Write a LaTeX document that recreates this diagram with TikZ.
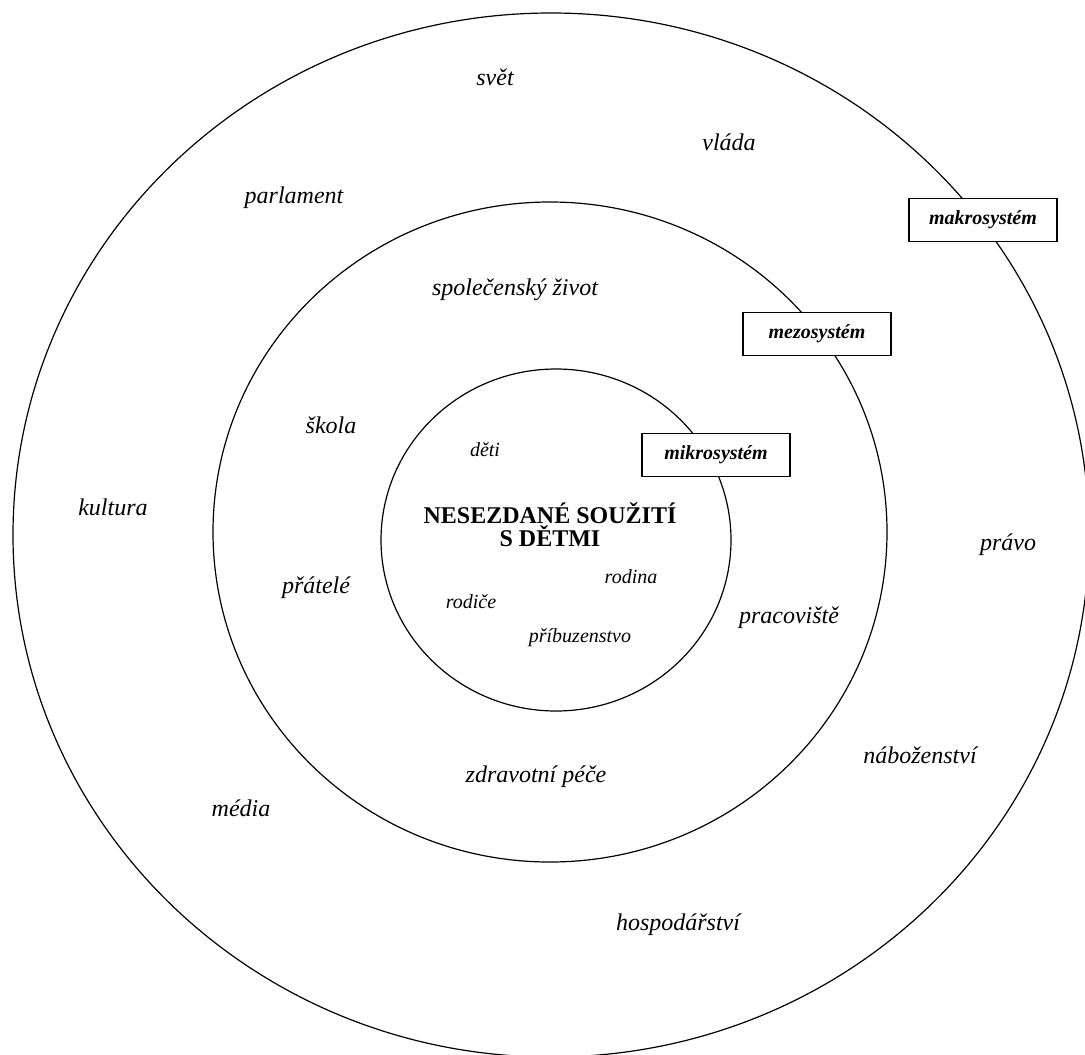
\documentclass[tikz,border=0pt]{standalone}
\usepackage{fontspec}
\setmainfont{Liberation Serif}
\usetikzlibrary{positioning}

\begin{document}
\begin{tikzpicture}[x=0.5pt,y=-0.5pt,
  ring/.style={line width=0.6pt},
  far/.style={font=\fontsize{12}{14}\selectfont\itshape},
  near/.style={font=\fontsize{10}{12}\selectfont\itshape},
  level/.style={draw,line width=0.9pt,fill=white,minimum width=74pt,
    minimum height=21.5pt,inner sep=0pt,font=\fontsize{10}{12}\selectfont\bfseries\itshape}]
  \useasboundingbox (0,0) rectangle (1085,1054);
  % the three systems
  \draw[ring] (551,535) ellipse [x radius=269pt, y radius=261pt];
  \draw[ring] (550,532) ellipse [x radius=168.5pt, y radius=165pt];
  \draw[ring] (556,540) ellipse [x radius=87.5pt, y radius=85.5pt];
  \node[level] (makro) at (983,220) {makrosystém};
  \node[level] (mezo) at (817,334) {mezosystém};
  \node[level] (mikro) at (716,455) {mikrosystém};
  % centre
  \node[align=center,font=\fontsize{12}{10.5}\selectfont\bfseries] (core) at (550,525)
    {NESEZDANÉ SOUŽITÍ\\S DĚTMI};
  \node[near] (deti) at (485,450) {děti};
  \node[near] (rodina) at (631,577) {rodina};
  \node[near] (rodice) at (471,602) {rodiče};
  \node[near] (pribuz) at (580,638) {příbuzenstvo};
  % middle ring
  \node[far] (spol) at (515,290) {společenský život};
  \node[far] (skola) at (331,425) {škola};
  \node[far] (pratele) at (316,588) {přátelé};
  \node[far] (prac) at (789,618) {pracoviště};
  \node[far] (zdrav) at (536,777) {zdravotní péče};
  % outer ring
  \node[far] (svet) at (495,77) {svět};
  \node[far] (vlada) at (729,142) {vláda};
  \node[far] (parl) at (294,198) {parlament};
  \node[far] (kult) at (113,507) {kultura};
  \node[far] (pravo) at (1008,545) {právo};
  \node[far] (nabo) at (920,755) {náboženství};
  \node[far] (media) at (241,808) {média};
  \node[far] (hosp) at (678,925) {hospodářství};
\end{tikzpicture}
\end{document}
